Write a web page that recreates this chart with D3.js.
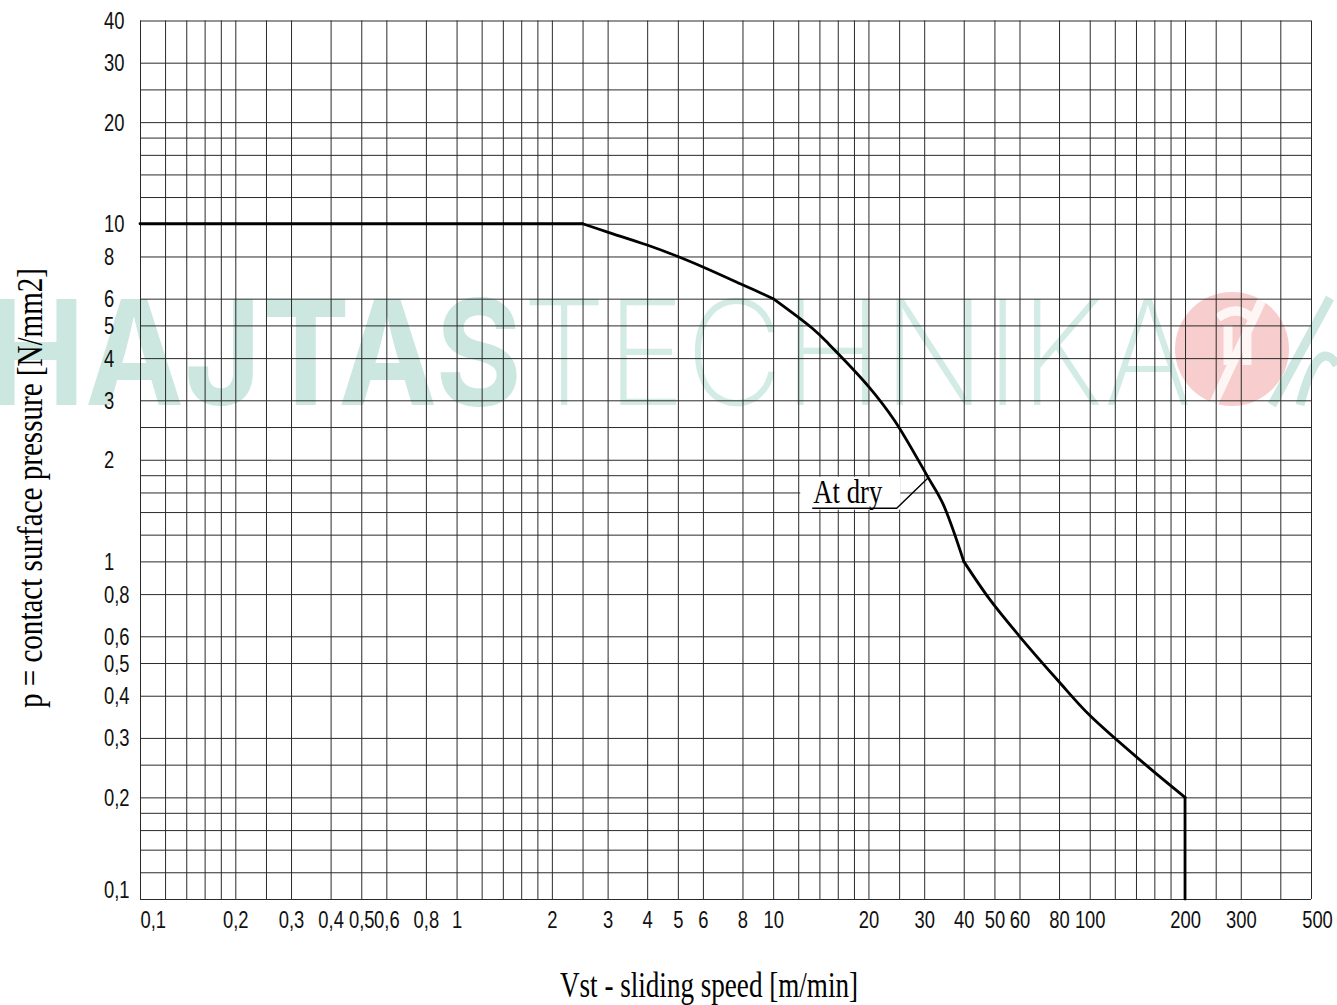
<!DOCTYPE html>
<html>
<head>
<meta charset="utf-8">
<script src="https://cdn.jsdelivr.net/npm/d3@7/dist/d3.min.js"></script>
<style>
  html, body { margin: 0; padding: 0; background: #fff; }
  svg { display: block; }
  .tick text { font-family: "Liberation Sans", Arial, sans-serif; font-size: 23px; fill: #111; }
</style>
</head>
<body>
<svg id="chart" width="1337" height="1005"></svg>
<script>
// ---------- data ----------
const speed =    [0.1, 2.5, 3,    4,    5, 6,    8,   10, 13.4, 15,  20,  24.2, 30.9, 34.4, 40, 48.4, 60,  80,   100,  150,  200, 200];
const pressure = [10,  10,  9.45, 8.65, 8, 7.45, 6.6, 6,  4.87, 4.4, 3.3, 2.61, 1.77, 1.48, 1,  0.77, 0.6, 0.44, 0.35, 0.25, 0.2, 0.1];
const kneeSpeeds = [2.5, 10, 40, 200];

const xGridValues = [0.1,0.12,0.14,0.16,0.18,0.2,0.25,0.3,0.4,0.5,0.6,0.8,
                     1,1.2,1.4,1.6,1.8,2,2.5,3,4,5,6,8,
                     10,12,14,16,18,20,25,30,40,50,60,80,
                     100,120,140,160,180,200,250,300,400,500];
const yGridValues = [0.1,0.12,0.14,0.16,0.18,0.2,0.25,0.3,0.4,0.5,0.6,0.8,
                     1,1.2,1.4,1.6,1.8,2,2.5,3,4,5,6,8,
                     10,12,14,16,18,20,25,30,40];
const xTickLabels = [0.1,0.2,0.3,0.4,0.5,0.6,0.8,1,2,3,4,5,6,8,10,20,30,40,50,60,80,100,200,300,500];
const yTickLabels = [0.1,0.2,0.3,0.4,0.5,0.6,0.8,1,2,3,4,5,6,8,10,20,30,40];

const xTitle = "Vst - sliding speed [m/min]";
const yTitle = "p = contact surface pressure [N/mm2]";
const curveLabel = "At dry";
const curveLabelAt = [30.9, 1.77];
const watermarkBold = "HAJTAS";
const watermarkThin = "TECHNIKA";

// ---------- layout ----------
const L = 140, R = 1311, T = 20.5, B = 899;
const SX = 0.8; // horizontal squeeze of tick labels (narrow DIN-like look)
const svg = d3.select("#chart");
const x = d3.scaleLog().domain([0.1, 500]).range([L, R]);
const y = d3.scaleLog().domain([0.1, 40]).range([B, T]);
const fmt = d => String(d).replace(".", ",");

// ---------- watermark ----------
const wm = svg.append("g").attr("class", "watermark");
wm.append("text").attr("x", -14).attr("y", 405)
  .attr("font-family", "Inter, 'Open Sans', sans-serif").attr("font-weight", 700)
  .attr("font-size", 146).attr("fill", "#cbe7e0")
  .attr("textLength", 536).attr("lengthAdjust", "spacingAndGlyphs")
  .text(watermarkBold);
wm.append("text").attr("x", 522).attr("y", 405)
  .attr("font-family", "Inter, 'Open Sans', sans-serif").attr("font-weight", 200)
  .attr("font-size", 146).attr("fill", "#d3ebe5")
  .attr("textLength", 670).attr("lengthAdjust", "spacingAndGlyphs")
  .text(watermarkThin);
wm.append("circle").attr("cx", 1232).attr("cy", 349).attr("r", 57).attr("fill", "#f7cdcd");
wm.append("path").attr("d", "M1218,318 q18,-14 34,0 M1228,325 v40 M1247,325 v40 M1262,300 L1213,405")
  .attr("fill", "none").attr("stroke", "#fff").attr("stroke-width", 9).attr("opacity", 0.8);
wm.append("path").attr("d", "M1330,298 L1272,405 M1300,405 q18,-70 37,-40")
  .attr("fill", "none").attr("stroke", "#cbe7e0").attr("stroke-width", 9);

// ---------- grid ----------
const gx = svg.append("g").attr("transform", `translate(0,${B})`)
  .call(d3.axisBottom(x).tickValues(xGridValues).tickSize(-(B - T)).tickFormat(""));
gx.select(".domain").remove();
gx.selectAll(".tick line").attr("stroke", "#2a2a2a").attr("stroke-width", 1);

const gy = svg.append("g").attr("transform", `translate(${L},0)`)
  .call(d3.axisLeft(y).tickValues(yGridValues).tickSize(-(R - L)).tickFormat(""));
gy.select(".domain").remove();
gy.selectAll(".tick line").attr("stroke", "#2a2a2a").attr("stroke-width", 1);

// ---------- tick labels ----------
const ax = svg.append("g").attr("transform", `translate(0,${B})`)
  .call(d3.axisBottom(x).tickValues(xTickLabels).tickSize(0).tickPadding(13).tickFormat(fmt));
ax.select(".domain").remove();
ax.selectAll(".tick text")
  .attr("transform", `scale(${SX},1)`)
  .attr("text-anchor", d => d === 0.1 ? "start" : "middle")
  .attr("dx", d => d === 500 ? 6 / SX : 0);

const ay = svg.append("g").attr("transform", `translate(${L},0)`)
  .call(d3.axisLeft(y).tickValues(yTickLabels).tickSize(0).tickPadding(13).tickFormat(fmt));
ay.select(".domain").remove();
ay.selectAll(".tick text")
  .attr("transform", `scale(${SX},1)`)
  .attr("text-anchor", "start")
  .attr("x", -36 / SX)
  .attr("dy", d => d === 0.1 ? "-0.05em" : "0.35em");

// ---------- label box (hides grid behind "At dry") ----------
const px = x(curveLabelAt[0]), py = y(curveLabelAt[1]);
svg.append("rect").attr("x", px - 128).attr("y", py - 1).attr("width", 100).attr("height", 33).attr("fill", "#fff");

// ---------- curve (smooth between knees, sharp corners at knees) ----------
const pts = speed.map((s, i) => [s, pressure[i]]);
const segs = [];
let cur = [pts[0]];
for (let i = 1; i < pts.length; i++) {
  cur.push(pts[i]);
  if (kneeSpeeds.includes(pts[i][0]) && i < pts.length - 1) { segs.push(cur); cur = [pts[i]]; }
}
segs.push(cur);
const lineSmooth = d3.line().x(d => x(d[0])).y(d => y(d[1])).curve(d3.curveCatmullRom.alpha(0.5));
svg.append("g").selectAll("path").data(segs).join("path")
  .attr("fill", "none").attr("stroke", "#000").attr("stroke-width", 2.8)
  .attr("stroke-linejoin", "round").attr("stroke-linecap", "round")
  .attr("d", lineSmooth);

// ---------- annotation ----------
svg.append("path")
  .attr("d", `M${px - 116},${py + 30.6} L${px - 31.6},${py + 30.6} L${px},${py}`)
  .attr("fill", "none").attr("stroke", "#000").attr("stroke-width", 1.4);
svg.append("text").attr("x", px - 115).attr("y", py + 25)
  .attr("font-family", "'Liberation Serif', serif").attr("font-size", 34).attr("fill", "#000")
  .attr("textLength", 69).attr("lengthAdjust", "spacingAndGlyphs")
  .text(curveLabel);

// ---------- axis titles ----------
svg.append("text").attr("x", 560).attr("y", 997)
  .attr("font-family", "'Liberation Serif', serif").attr("font-size", 35).attr("fill", "#000")
  .attr("textLength", 298).attr("lengthAdjust", "spacingAndGlyphs")
  .text(xTitle);
svg.append("text").attr("transform", "translate(42,708) rotate(-90)")
  .attr("font-family", "'Liberation Serif', serif").attr("font-size", 36).attr("fill", "#000")
  .attr("textLength", 440).attr("lengthAdjust", "spacingAndGlyphs")
  .text(yTitle);
</script>
</body>
</html>
